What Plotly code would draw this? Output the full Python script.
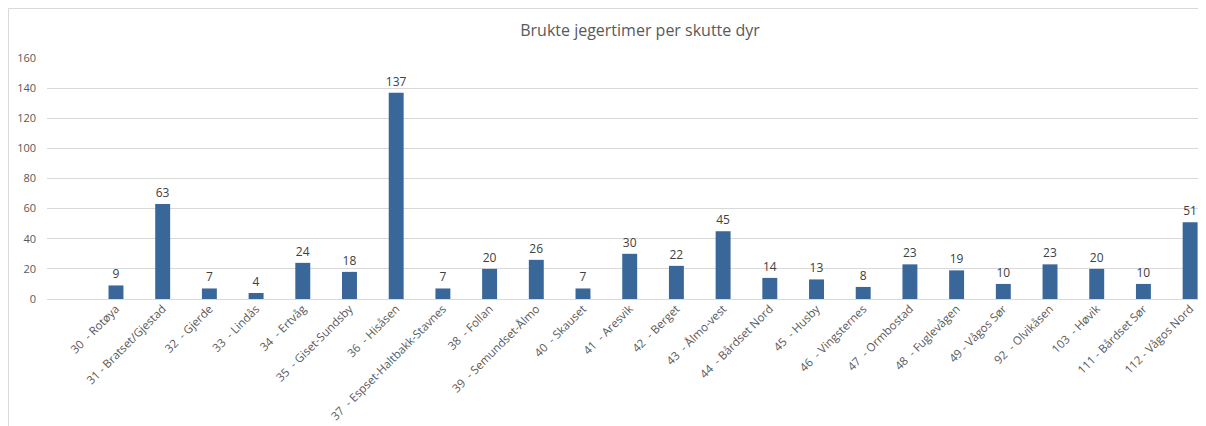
import plotly.graph_objects as go

title = "Brukte jegertimer per skutte dyr"
categories = [
    "30  - Rotøya", "31 - Bratset/Gjestad", "32  - Gjerde", "33  - Lindås",
    "34  - Ertvåg", "35  - Giset-Sundsby", "36  - Hisåsen",
    "37  - Espset-Haltbakk-Stavnes", "38  - Follan", "39  - Semundset-Ålmo",
    "40  - Skauset", "41  - Aresvik", "42  - Berget", "43  - Ålmo-vest",
    "44  - Bårdset Nord", "45  - Husby", "46  - Vingsternes", "47  - Ormbostad",
    "48  - Fuglevågen", "49 - Vågos Sør", "92  - Olvikåsen", "103  - Høvik",
    "111 - Bårdset Sør", "112 - Vågos Nord",
]
values = [9, 63, 7, 4, 24, 18, 137, 7, 20, 26, 7, 30, 22, 45, 14, 13, 8, 23,
          19, 10, 23, 20, 10, 51]
y_ticks = [0, 20, 40, 60, 80, 100, 120, 140, 160]

# the page body adds an 8px offset; figure sized to fill the rest of the window
W, H = 1198, 418
L, R, T, B = 39, 0, 50, 127
pw = W - L - R
ph = H - T - B

FONT = "Open Sans, Liberation Sans, sans-serif"

fig = go.Figure(go.Bar(
    x=categories, y=values,
    marker=dict(color="#3A679A", line=dict(width=0)),
    text=[str(v) for v in values], textposition="outside",
    constraintext="none",
    textfont=dict(family=FONT, size=12, color="#404040"),
    cliponaxis=False,
))

fig.update_layout(
    width=W, height=H,
    margin=dict(l=L, r=R, t=T, b=B, autoexpand=False),
    paper_bgcolor="white", plot_bgcolor="white",
    bargap=0.68,
    showlegend=False,
    title=dict(text=title, x=(632 - L) / pw, xref="paper", xanchor="center",
               y=1 - 22 / H, yanchor="middle",
               font=dict(family=FONT, size=16, color="#595959")),
    xaxis=dict(
        type="category", range=[-1.477, 23.34],
        tickangle=-45, showgrid=False, showline=False, ticks="",
        tickfont=dict(family=FONT, size=11.5, color="#595959"),
    ),
    yaxis=dict(
        range=[0, 160], tickvals=y_ticks, showgrid=True, gridcolor="#D9D9D9",
        gridwidth=1, zeroline=True, zerolinecolor="#D9D9D9", zerolinewidth=1,
        showline=False, ticks="", ticklabelstandoff=10,
        tickfont=dict(family=FONT, size=11, color="#595959"),
    ),
    font=dict(family=FONT),
)

# chart border at the figure edge
fig.add_shape(type="rect", xref="paper", yref="paper",
              x0=(0.5 - L) / pw, x1=(W + 20 - L) / pw,
              y0=(T + ph - (H + 20)) / ph, y1=(T + ph - 0.5) / ph,
              line=dict(color="#D9D9D9", width=1), fillcolor="rgba(0,0,0,0)",
              layer="below")

fig.write_html("out.html")
